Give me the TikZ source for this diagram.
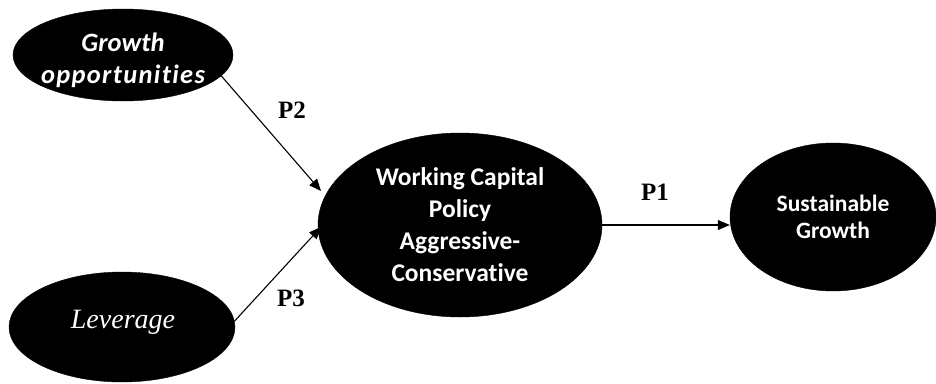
\documentclass[tikz,border=0pt]{standalone}
\usepackage{fontspec}
\setmainfont{Liberation Serif}
\newfontfamily\calib[Ligatures={NoCommon}]{Carlito}
\usetikzlibrary{shapes.geometric,arrows.meta}
\begin{document}
\begin{tikzpicture}[x=1pt,y=-1pt,
  blob/.style={ellipse,fill=black,draw=black,inner sep=0pt,text=white,align=center},
  intext/.style={text=white,align=center,inner sep=0pt},
  conn/.style={draw=black,line width=1.1pt,-{Triangle[length=12pt,width=10pt]}},
  plabel/.style={font=\fontsize{25}{28}\selectfont\bfseries}]
\useasboundingbox (0,0) rectangle (936,383);
\node[blob,minimum width=220pt,minimum height=92pt] (go) at (123,55) {};
\node[intext,font=\calib\fontsize{26.5}{32}\selectfont\bfseries\itshape] (got) at (123,60) {Growth\\{\addfontfeature{LetterSpace=5}opportunities}};
\node[blob,minimum width=226pt,minimum height=110pt] (lev) at (122,327) {};
\node[intext,font=\fontsize{28}{32}\selectfont\itshape] (levt) at (123,322) {Leverage};
\node[blob,minimum width=284pt,minimum height=184pt,font=\calib\fontsize{25.5}{32}\selectfont\bfseries] (wc) at (460,225) {Working Capital\\Policy\\Aggressive-\\Conservative};
\node[blob,minimum width=206pt,minimum height=148pt,font=\calib\fontsize{23.5}{27}\selectfont\bfseries] (sg) at (833,217) {Sustainable\\Growth};
\coordinate (t2) at (321,191);
\coordinate (t3) at (321,227);
\draw[conn] (go.-12) -- (t2);
\draw[conn] (lev.3) -- (t3);
\draw[conn] (wc.east) -- (wc.east -| sg.west);
\node[plabel] (p2) at (292,110) {P2};
\node[plabel] (p3) at (291,298) {P3};
\node[plabel] (p1) at (655,192) {P1};
\end{tikzpicture}
\end{document}
